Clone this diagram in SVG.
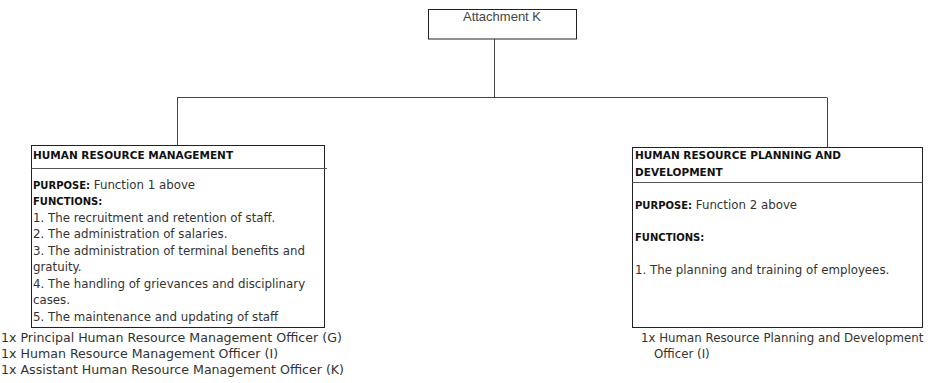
<svg xmlns="http://www.w3.org/2000/svg" width="932" height="383" viewBox="0 0 932 383">
  <style>
    .box { fill: #ffffff; stroke: #222222; stroke-width: 1; }
    .sep { stroke: #555555; stroke-width: 1; }
    .wire { stroke: #444444; stroke-width: 1; fill: none; }
    text { font-family: "DejaVu Sans", Verdana, sans-serif; }
    .head { font-size: 10.5px; font-weight: bold; fill: #111111; }
    .body { font-size: 11.8px; fill: #333333; }
    .lbl { font-size: 10px; font-weight: bold; fill: #111111; }
    .staff { font-size: 12.6px; fill: #333333; }
    .staff-r { font-size: 11.8px; fill: #333333; }
    .title { font-family: "Liberation Sans", Arial, sans-serif; font-size: 13px; fill: #444444; }
  </style>

  <!-- connectors -->
  <g id="connectors">
    <line class="wire" x1="494.5" y1="39" x2="494.5" y2="97.5"/>
    <line class="wire" x1="177" y1="97.5" x2="827" y2="97.5"/>
    <line class="wire" x1="177.5" y1="97.5" x2="177.5" y2="145"/>
    <line class="wire" x1="827.5" y1="97.5" x2="827.5" y2="147"/>
  </g>

  <!-- top node -->
  <g id="attachment-k">
    <rect class="box" x="428.5" y="9.5" width="148" height="29.5"/>
    <text class="title" x="502" y="21" text-anchor="middle">Attachment K</text>
  </g>

  <!-- left unit -->
  <g id="hr-management">
    <rect class="box" x="31.5" y="145.5" width="293" height="182"/>
    <line class="sep" x1="31.5" y1="168.5" x2="327" y2="168.5"/>
    <text class="head" x="33" y="159">HUMAN RESOURCE MANAGEMENT</text>
    <text class="body" x="33" y="189"><tspan class="lbl">PURPOSE:</tspan> Function 1 above</text>
    <text class="lbl" x="33" y="205">FUNCTIONS:</text>
    <text class="body" x="33" y="221.5">1. The recruitment and retention of staff.</text>
    <text class="body" x="33" y="238">2. The administration of salaries.</text>
    <text class="body" x="33" y="254.5">3. The administration of terminal benefits and</text>
    <text class="body" x="33" y="271">gratuity.</text>
    <text class="body" x="33" y="287.5">4. The handling of grievances and disciplinary</text>
    <text class="body" x="33" y="304">cases.</text>
    <text class="body" x="33" y="320.5">5. The maintenance and updating of staff</text>
  </g>
  <g id="hr-management-staff">
    <text class="staff" x="1" y="342">1x Principal Human Resource Management Officer (G)</text>
    <text class="staff" x="1" y="358">1x Human Resource Management Officer (I)</text>
    <text class="staff" x="1" y="374">1x Assistant Human Resource Management Officer (K)</text>
  </g>

  <!-- right unit -->
  <g id="hr-planning">
    <rect class="box" x="632.5" y="147.5" width="290" height="180"/>
    <line class="sep" x1="632.5" y1="182.5" x2="922.5" y2="182.5"/>
    <text class="head" x="635" y="159">HUMAN RESOURCE PLANNING AND</text>
    <text class="head" x="635" y="176">DEVELOPMENT</text>
    <text class="body" x="635" y="209"><tspan class="lbl">PURPOSE:</tspan> Function 2 above</text>
    <text class="lbl" x="635" y="241">FUNCTIONS:</text>
    <text class="body" x="635" y="274">1. The planning and training of employees.</text>
  </g>
  <g id="hr-planning-staff">
    <text class="staff-r" x="641" y="342">1x Human Resource Planning and Development</text>
    <text class="staff-r" x="654" y="358">Officer (I)</text>
  </g>
</svg>
